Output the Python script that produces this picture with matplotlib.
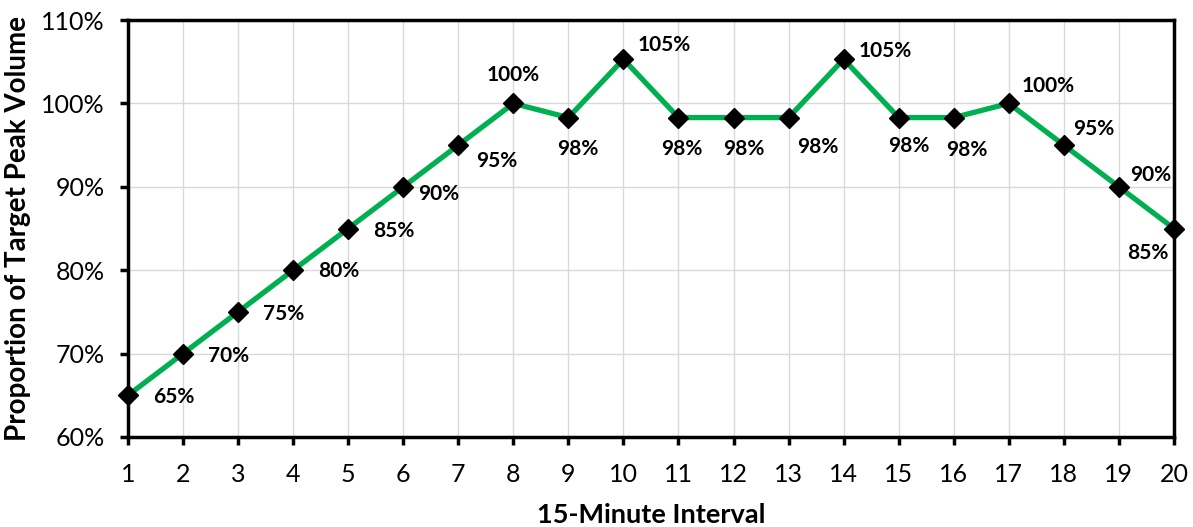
import matplotlib
matplotlib.use('Agg')
import matplotlib.pyplot as plt
from matplotlib.ticker import PercentFormatter

plt.rcParams['font.family'] = ['Lato', 'DejaVu Sans']

intervals = list(range(1, 21))
volume = [65, 70, 75, 80, 85, 90, 95, 100, 98.3, 105.3,
          98.3, 98.3, 98.3, 105.3, 98.3, 98.3, 100, 95, 90, 85]
labels = ['65%', '70%', '75%', '80%', '85%', '90%', '95%', '100%', '98%', '105%',
          '98%', '98%', '98%', '105%', '98%', '98%', '100%', '95%', '90%', '85%']

# data label offsets from each marker, in pixels (x right, y up)
label_dx = [46, 46, 46, 46, 46, 35, 38, 0, 9, 41, 3, 10, 29, 42, 10, 13, 39, 30, 32, -26]
label_dy = [-2, -2, -2, -1, -2, -7, -16, 28, -31, 14, -31, -31, -29, 8, -28, -32, 17, 16, 12, -24]

fig = plt.figure(figsize=(11.93, 5.27), dpi=100)
ax = fig.add_axes([0.1073, 0.1708, 0.8767, 0.7912])

ax.plot(intervals, volume, color='#00B050', linewidth=3.8, marker='D',
        markersize=10.5, markerfacecolor='black', markeredgecolor='black',
        markeredgewidth=1, clip_on=False, zorder=3)

px = 72 / fig.dpi
for x, y, lab, dx, dy in zip(intervals, volume, labels, label_dx, label_dy):
    ax.annotate(lab, (x, y), xytext=(dx * px, dy * px), textcoords='offset points',
                ha='center', va='center', fontsize=15, fontweight='bold',
                color='black', zorder=4, annotation_clip=False)

ax.set_xlim(1, 20)
ax.set_ylim(60, 110)
ax.set_xticks(intervals)
ax.set_yticks(range(60, 111, 10))
ax.yaxis.set_major_formatter(PercentFormatter(decimals=0))

ax.grid(True, color='#d9d9d9', linewidth=1)
ax.set_axisbelow(True)
for s in ax.spines.values():
    s.set_linewidth(2.5)
    s.set_color('black')

ax.tick_params(axis='both', direction='out', length=6, width=2.5, labelsize=18)
ax.tick_params(axis='x', pad=13)
ax.tick_params(axis='y', pad=11)

ax.set_xlabel('15-Minute Interval', fontsize=19.5, fontweight='bold', labelpad=12)
ax.set_ylabel('Proportion of Target Peak Volume', fontsize=20, fontweight='bold', labelpad=7)

fig.savefig('out.png', dpi=100)
